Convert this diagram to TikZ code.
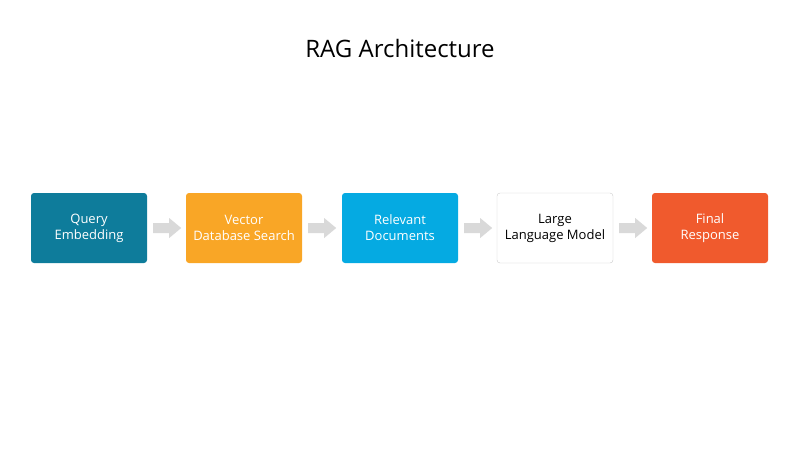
\documentclass[tikz,border=0pt]{standalone}
\usepackage{fontspec}
\setmainfont{Open Sans}
\begin{document}
\begin{tikzpicture}[x=1pt,y=-1pt,
 box/.style={rounded corners=3pt,minimum width=116pt,minimum height=70pt,align=center,font=\fontsize{13}{16}\selectfont,text=white,inner sep=0pt},
 arr/.style={fill=black!15,draw=none}]
\useasboundingbox (0,0) rectangle (800,456);
\node[font=\fontsize{24}{28}\selectfont] (t) at (400,48) {RAG Architecture};
\node[box,fill={rgb,255:red,14;green,124;blue,155}] (a) at (89,228) {Query\\Embedding};
\node[box,fill={rgb,255:red,249;green,166;blue,38}] (b) at (244,228) {Vector\\Database Search};
\node[box,fill={rgb,255:red,5;green,170;blue,226}] (c) at (400,228) {Relevant\\Documents};
\node[box,fill=white,draw=black!20,text=black] (d) at (555,228) {Large\\Language Model};
\node[box,fill={rgb,255:red,240;green,90;blue,45}] (e) at (710,228) {Final\\Response};
\foreach \p/\q in {a/b,b/c,c/d,d/e}{
 \path (\p.east) ++(6,0) coordinate (s\p);
 \fill[arr] (s\p) ++(0,-5) -- ++(16,0) -- ++(0,-5) -- ++(12,10) -- ++(-12,10) -- ++(0,-5) -- ++(-16,0) -- cycle;
}
\end{tikzpicture}
\end{document}
